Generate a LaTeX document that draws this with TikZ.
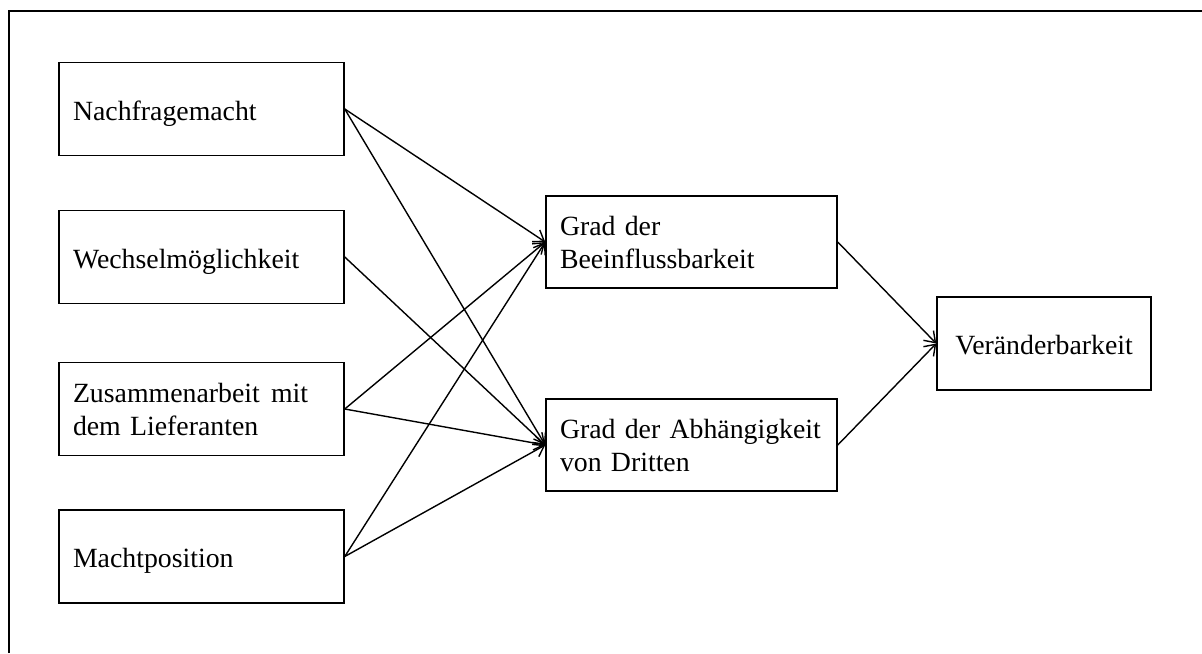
\documentclass[tikz,border=0pt]{standalone}
\usepackage{fontspec}
\setmainfont{Liberation Serif}
\usetikzlibrary{arrows.meta}

\tikzset{
  box/.style={draw, line width=0.75pt, rectangle, inner xsep=7pt, inner ysep=0pt,
    minimum height=46.5pt, align=left,
    font=\fontsize{13.9}{16.5}\selectfont},
  oneline/.style={text height=12.5pt, text depth=1.5pt},
  leftbox/.style={box, text width=128.5pt},
  midbox/.style={box, text width=131.5pt, minimum height=46pt},
  endbox/.style={box, align=center, text width=93pt, oneline},
  link/.style={line width=0.7pt, -{Straight Barb[length=5pt,width=7pt]}},
  frame/.style={line width=1pt}
}

\begin{document}
\begin{tikzpicture}[x=0.5pt, y=-0.5pt]
  \useasboundingbox (0,0) rectangle (1202,653);

  % open frame on the top and left
  \coordinate (fb) at (9,653);
  \coordinate (fc) at (9,11);
  \coordinate (fr) at (1202,11);
  \draw[frame] (fb) -- (fc) -- (fr);

  % influencing factors
  \node[leftbox, oneline] (nach) at (201.5,109)   {Nachfragemacht};
  \node[leftbox, oneline] (wech) at (201.5,257)   {Wechselmöglichkeit};
  \node[leftbox] (zus)  at (201.5,409)   {Zusammenarbeit\hspace{1pt} mit\\dem Lieferanten};
  \node[leftbox, oneline] (macht) at (201.5,556.5) {Machtposition};

  % intermediate degrees
  \node[midbox] (bee) at (691.5,242) {Grad der\\Beeinflussbarkeit};
  \node[midbox] (abh) at (691.5,445) {Grad der Abhängigkeit\\von Dritten};

  % result
  \node[endbox] (ver) at (1044,343.5) {Veränderbarkeit};

  % connectors
  \draw[link] (nach.east)  -- (bee.west);
  \draw[link] (nach.east)  -- (abh.west);
  \draw[link] (wech.east)  -- (abh.west);
  \draw[link] (zus.east)   -- (bee.west);
  \draw[link] (zus.east)   -- (abh.west);
  \draw[link] (macht.east) -- (bee.west);
  \draw[link] (macht.east) -- (abh.west);
  \draw[link] (bee.east)   -- (ver.west);
  \draw[link] (abh.east)   -- (ver.west);
\end{tikzpicture}
\end{document}
